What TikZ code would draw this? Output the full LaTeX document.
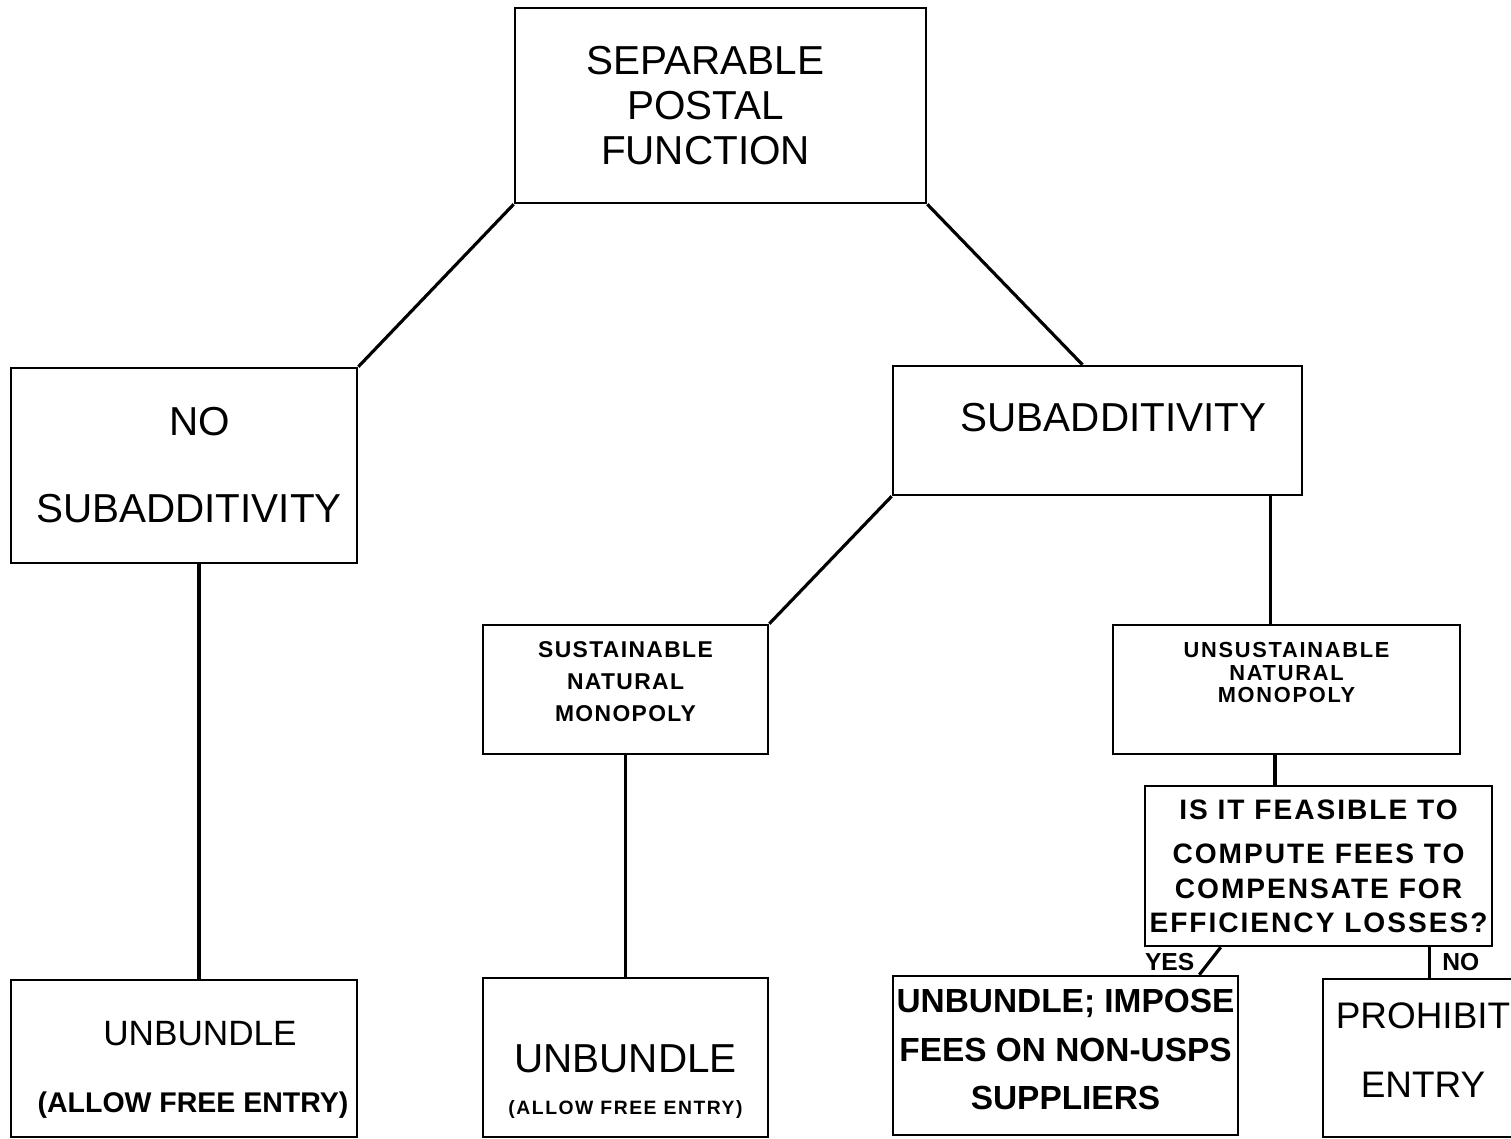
\documentclass[tikz,border=0pt]{standalone}
\usepackage{fontspec}
\setmainfont{Liberation Sans}
\usepackage{tikz}
\usetikzlibrary{positioning}

% struts to push text inside a box up or down
\newcommand{\padtop}[1]{\rule{0pt}{#1}}
\newcommand{\padbot}[1]{\rule[-#1]{0pt}{0pt}}

\begin{document}
\begin{tikzpicture}[x=0.01cm, y=-0.01cm,
  box/.style={draw, line width=0.7pt, inner sep=0pt, align=center},
  link/.style={line width=0.9pt},
  stem/.style={line width=1.3pt},
  answer/.style={font=\fontsize{7}{8}\selectfont\bfseries, inner sep=1pt}]
\useasboundingbox (0,0) rectangle (1511,1139);

% Top level
\node[box, minimum width=4.11cm, minimum height=1.95cm,
  font=\fontsize{11.5}{12.7}\selectfont] (func) at (720.5,105.5)
  {SEPARABLE\kern0.3cm\\POSTAL\kern0.3cm\\FUNCTION\kern0.3cm};

% Second level
\node[box, minimum width=3.46cm, minimum height=1.95cm,
  font=\fontsize{11.5}{12.7}\selectfont] (nosub) at (184,465.5)
  {\kern0.32cm NO\\[12pt]\kern0.1cm SUBADDITIVITY};
\node[box, minimum width=4.09cm, minimum height=1.29cm,
  font=\fontsize{11.5}{12.7}\selectfont] (sub) at (1097.5,430.5)
  {\kern0.32cm SUBADDITIVITY\padbot{0.26cm}};

% Kinds of natural monopoly
\node[box, minimum width=2.85cm, minimum height=1.29cm,
  font=\fontsize{6.5}{9.2}\selectfont\bfseries\addfontfeatures{LetterSpace=6}]
  (sust) at (625.5,689.5)
  {SUSTAINABLE\\NATURAL\\MONOPOLY\padbot{0.16cm}};
\node[box, minimum width=3.47cm, minimum height=1.29cm,
  font=\fontsize{6.2}{6.3}\selectfont\bfseries\addfontfeatures{LetterSpace=8}]
  (unsust) at (1286.5,689.5)
  {UNSUSTAINABLE\\NATURAL\\MONOPOLY\padbot{0.34cm}};

% Question
\node[box, minimum width=3.47cm, minimum height=1.60cm,
  font=\fontsize{8}{9.7}\selectfont\bfseries\addfontfeatures{LetterSpace=7}]
  (feas) at (1318.5,866)
  {IS IT FEASIBLE TO\\[3pt]COMPUTE FEES TO\\COMPENSATE FOR\\EFFICIENCY LOSSES?};

% Outcomes
\node[box, minimum width=3.46cm, minimum height=1.57cm,
  font=\fontsize{10}{19}\selectfont] (unbA) at (184,1058.5)
  {\padtop{0.47cm}\kern0.32cm UNBUNDLE\\{\fontsize{8.1}{19}\selectfont\bfseries\kern0.18cm (ALLOW FREE ENTRY)}};
\node[box, minimum width=2.85cm, minimum height=1.59cm,
  font=\fontsize{11.5}{12}\selectfont] (unbB) at (625.5,1057.5)
  {\padtop{0.76cm}UNBUNDLE\\{\fontsize{5.5}{12}\selectfont\bfseries\addfontfeatures{LetterSpace=8}(ALLOW FREE ENTRY)}};
\node[box, minimum width=3.45cm, minimum height=1.59cm,
  font=\fontsize{9.5}{13.8}\selectfont\bfseries] (unbfee) at (1065.5,1055.5)
  {UNBUNDLE; IMPOSE\\FEES ON NON-USPS\\SUPPLIERS\padbot{0.12cm}};
\node[box, minimum width=2.0cm, minimum height=1.58cm,
  font=\fontsize{10.5}{19.6}\selectfont] (prohibit) at (1423,1058)
  {PROHIBIT\\ENTRY\padbot{0.16cm}};

% Connectors
\draw[link] (func.south west) -- (nosub.north east);
\draw[link] (func.south east) -- ([xshift=-0.15cm]sub.north);
\draw[link] (sub.south west) -- (sust.north east);
\draw[link] ([xshift=-0.16cm]unsust.north |- sub.south) -- ([xshift=-0.16cm]unsust.north);
\draw[stem] ([xshift=0.15cm]nosub.south) -- ([xshift=0.15cm]unbA.north);
\draw[link] (sust.south) -- (unbB.north);
\draw[link] ([xshift=-0.115cm]unsust.south) -- ([xshift=-0.115cm]unsust.south |- feas.north);
\draw[link] ([xshift=0.77cm]feas.south west) -- ([xshift=-0.40cm]unbfee.north east)
  node[answer, pos=0.53, anchor=east, xshift=-0.1cm] (yes) {YES};
\draw[link] ([xshift=-0.64cm]feas.south east) -- ([xshift=-0.64cm]feas.south east |- prohibit.north)
  node[answer, pos=0.5, anchor=west, xshift=0.08cm] (no) {NO};
\end{tikzpicture}
\end{document}
